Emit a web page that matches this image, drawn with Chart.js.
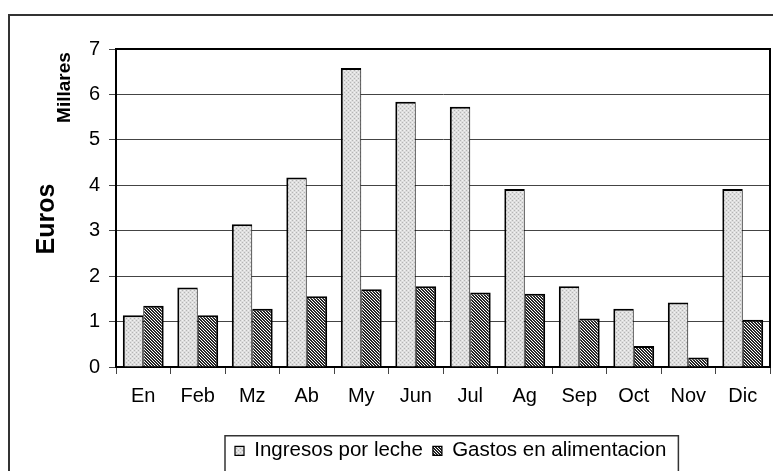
<!DOCTYPE html>
<html><head><meta charset="utf-8">
<script src="https://cdn.jsdelivr.net/npm/chart.js@4.4.1/dist/chart.umd.min.js"></script>
<style>html,body{margin:0;padding:0;background:#fff;overflow:hidden}canvas{display:block}</style>
</head><body>
<canvas id="c" width="773" height="471"></canvas>
<script>
const categories = ['En','Feb','Mz','Ab','My','Jun','Jul','Ag','Sep','Oct','Nov','Dic'];
const ingresosPorLeche = [1.14,1.75,3.14,4.17,6.58,5.84,5.73,3.92,1.78,1.28,1.42,3.92];
const gastosAlimentacion = [1.35,1.14,1.28,1.56,1.71,1.78,1.64,1.61,1.07,0.46,0.21,1.04];
const yTicks = [0,1,2,3,4,5,6,7];
const seriesNames = ['Ingresos por leche','Gastos en alimentacion'];
const yTitle = 'Euros';
const yUnitLabel = 'Millares';

const FONT = '"Liberation Sans", Arial, sans-serif';

function makePattern(size, draw){
  const c = document.createElement('canvas'); c.width = size; c.height = size;
  const g = c.getContext('2d'); draw(g);
  return document.getElementById('c').getContext('2d').createPattern(c, 'repeat');
}
const dotPattern = makePattern(4, g => {
  g.fillStyle = '#dedede'; g.fillRect(0,0,4,4);
  g.fillStyle = '#b4b4b4'; g.fillRect(0,0,1,1); g.fillRect(2,2,1,1);
  g.fillStyle = '#f2f2f2'; g.fillRect(2,0,1,1); g.fillRect(0,2,1,1);
});
const hatchPattern = makePattern(3, g => {
  g.fillStyle = '#ffffff'; g.fillRect(0,0,3,3);
  g.fillStyle = '#262626';
  for (let y = 0; y < 3; y++) { g.fillRect(y,y,1,1); g.fillRect((y+1)%3,y,1,1); }
});

const decor = {
  id: 'decor',
  beforeDraw(chart){
    const ctx = chart.ctx; ctx.save();
    ctx.fillStyle = '#fff'; ctx.fillRect(0,0,chart.width,chart.height);
    ctx.strokeStyle = '#333'; ctx.lineWidth = 2;
    ctx.strokeRect(9, 15, chart.width + 60, chart.height + 60);
    ctx.restore();
  },
  afterLayout(chart){
    const lg = chart.legend; if (!lg) return;
    const p = lg.options.labels.padding; const lw = lg.lineWidths[0];
    const cur = (lg.left + p + lg.right - lw) / 2;
    const s = 235 - cur; lg.left += s; lg.right += s;
  },
  afterDatasetsDraw(chart){
    const {ctx, chartArea: a} = chart; ctx.save();
    ctx.strokeStyle = '#000'; ctx.lineWidth = 2;
    ctx.beginPath(); ctx.moveTo(a.left, a.top); ctx.lineTo(a.right, a.top); ctx.lineTo(a.right, a.bottom); ctx.stroke();
    ctx.restore();
  },
  afterDraw(chart){
    const ctx = chart.ctx; ctx.save();
    ctx.fillStyle = '#000'; ctx.textAlign = 'center'; ctx.textBaseline = 'middle';
    ctx.save(); ctx.translate(47, 219); ctx.rotate(-Math.PI/2);
    ctx.font = 'bold 25px ' + FONT; ctx.fillText(yTitle, 0, 0); ctx.restore();
    ctx.save(); ctx.translate(64.5, 87.5); ctx.rotate(-Math.PI/2);
    ctx.font = 'bold 19px ' + FONT; ctx.fillText(yUnitLabel, 0, 0); ctx.restore();
    const hb = chart.legend.legendHitBoxes;
    if (hb && hb.length){
      const f = hb[0], l = hb[hb.length-1];
      const cy = f.top + f.height/2;
      ctx.strokeStyle = '#333'; ctx.lineWidth = 1.5;
      ctx.strokeRect(f.left - 10, cy - 15, (l.left + l.width + 12) - (f.left - 10), 60);
    }
    ctx.restore();
  }
};

new Chart(document.getElementById('c'), {
  type: 'bar',
  data: {
    labels: categories,
    datasets: [
      { label: seriesNames[0], data: ingresosPorLeche, backgroundColor: dotPattern, borderColor: '#000',
        borderWidth: {top:2, left:2, right:1, bottom:0}, categoryPercentage: 0.75, barPercentage: 1.0 },
      { label: seriesNames[1], data: gastosAlimentacion, backgroundColor: hatchPattern, borderColor: '#000',
        borderWidth: {top:2, left:1, right:2, bottom:0}, categoryPercentage: 0.75, barPercentage: 1.0 }
    ]
  },
  options: {
    responsive: false, animation: false, devicePixelRatio: 1,
    layout: { padding: { top: 49, right: 3, left: 0, bottom: 0 } },
    plugins: {
      tooltip: { enabled: false },
      legend: {
        position: 'bottom',
        labels: { font: { family: FONT, size: 20.5 }, color: '#000', boxWidth: 9, boxHeight: 9, padding: 10 }
      }
    },
    scales: {
      x: {
        grid: { drawOnChartArea: false, drawTicks: true, tickLength: 7, color: '#444', offset: true },
        border: { color: '#000', width: 2 },
        ticks: { font: { family: FONT, size: 20 }, color: '#000', padding: 10, maxRotation: 0, autoSkip: false },
        afterFit(s){ s.height = 104 - (s.chart.legend ? s.chart.legend.height : 0); }
      },
      y: {
        min: yTicks[0], max: yTicks[yTicks.length-1],
        afterBuildTicks(s){ s.ticks = yTicks.map(v => ({value: v})); },
        grid: { color: '#444', lineWidth: 1, tickLength: 7 },
        border: { color: '#000', width: 2 },
        ticks: { font: { family: FONT, size: 20 }, color: '#000', padding: 9 },
        afterFit(s){ s.width = 116; }
      }
    }
  },
  plugins: [decor]
});
</script>
</body></html>
